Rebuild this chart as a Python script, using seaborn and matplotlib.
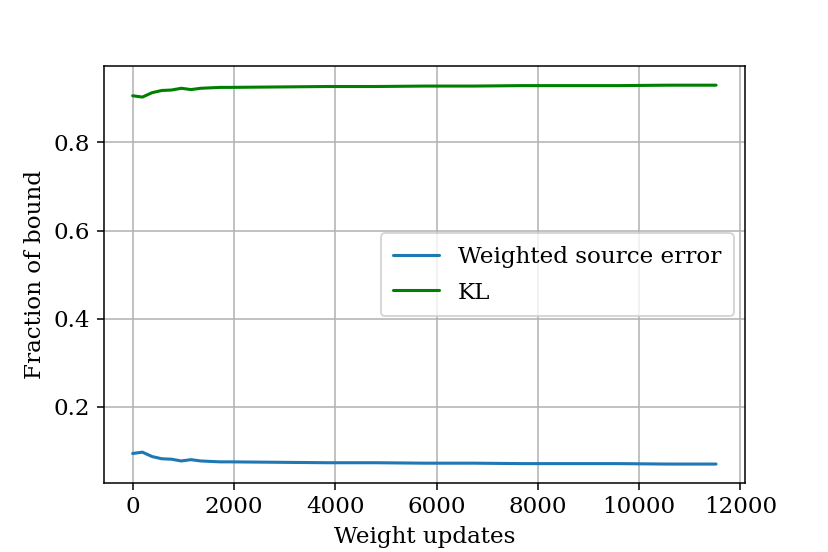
#!/usr/bin/env python3
# Fraction of bound over weight updates

import pandas as pd
import matplotlib
matplotlib.use('Agg')
import matplotlib.pyplot as plt
import seaborn as sns

# values
updates = [0, 192, 384, 576, 768, 960, 1152, 1344, 1536, 1728, 1920,
           2880, 3840, 4800, 5760, 6720, 7680, 8640, 9600, 10560, 11520]
weighted_error = [0.094, 0.097, 0.087, 0.082, 0.081, 0.077, 0.080, 0.077, 0.076, 0.075, 0.075,
                  0.074, 0.073, 0.073, 0.072, 0.072, 0.071, 0.071, 0.071, 0.070, 0.070]
kl = [0.906, 0.903, 0.913, 0.918, 0.919, 0.923, 0.920, 0.923, 0.924, 0.925, 0.925,
      0.926, 0.927, 0.927, 0.928, 0.928, 0.929, 0.929, 0.929, 0.930, 0.930]

series_names = ['Weighted source error', 'KL']
colors = {'Weighted source error': '#1f77b4', 'KL': 'green'}

df = pd.concat([
    pd.DataFrame({'updates': updates, 'value': weighted_error, 'series': series_names[0]}),
    pd.DataFrame({'updates': updates, 'value': kl, 'series': series_names[1]}),
])

sns.set_theme(style='ticks', rc={
    'axes.edgecolor': 'black',
    'axes.labelcolor': 'black',
    'text.color': 'black',
    'xtick.color': 'black',
    'ytick.color': 'black',
    'grid.color': '#b0b0b0',
    'grid.linewidth': 0.8,
    'axes.linewidth': 0.8,
})
plt.rcParams['font.family'] = ['DejaVu Serif']
plt.rcParams['font.size'] = 12

fig, ax = plt.subplots(figsize=(6, 4), dpi=138)
fig.subplots_adjust(left=0.125, right=0.9, top=0.88, bottom=0.125)

sns.lineplot(data=df, x='updates', y='value', hue='series', hue_order=series_names,
             palette=colors, linewidth=1.6, ax=ax)

ax.grid(True)
ax.set_xlabel('Weight updates', fontsize=12)
ax.set_ylabel('Fraction of bound', fontsize=12)
ax.set_yticks([0.2, 0.4, 0.6, 0.8])
ax.tick_params(labelsize=12, length=3.5, width=0.8, color='black')
ax.legend(loc='center right', fontsize=12, frameon=True, fancybox=True,
          labelspacing=0.6, borderpad=0.55)

plt.savefig('out.png', dpi=138)
